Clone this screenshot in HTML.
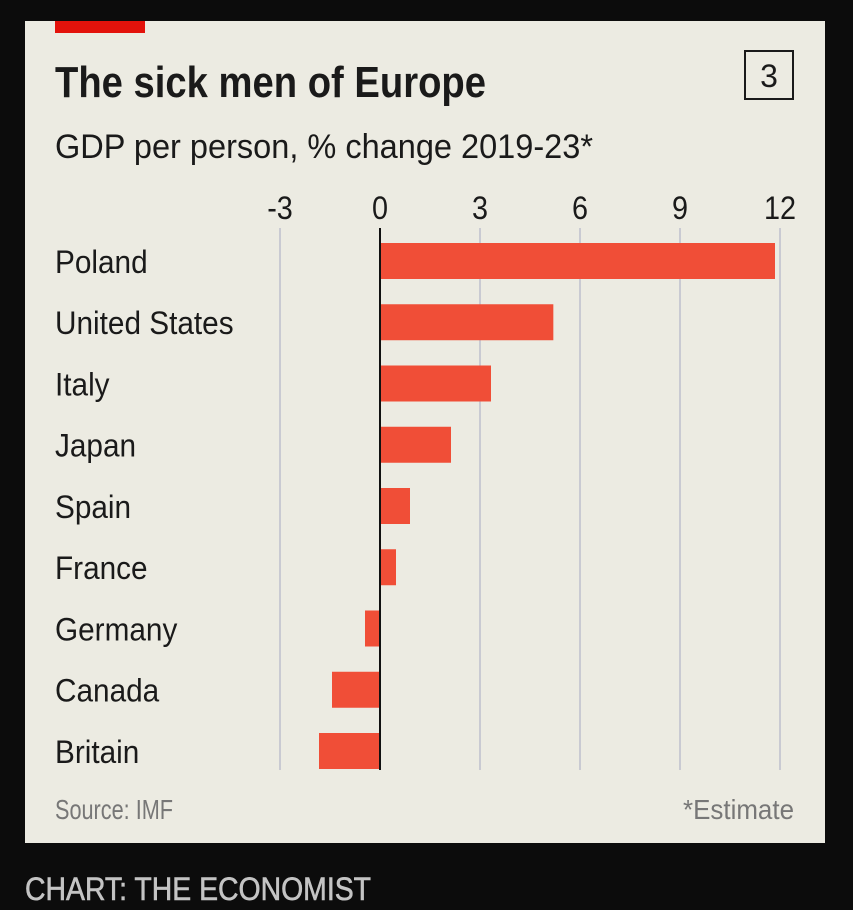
<!DOCTYPE html>
<html><head><meta charset="utf-8"><style>
html,body{margin:0;padding:0;background:#0c0c0c;}
svg{display:block;}
text{font-family:"Liberation Sans Narrow","Liberation Sans",sans-serif;}
</style></head><body>
<svg id="chart" width="853" height="910" viewBox="0 0 853 910">
  <rect x="0" y="0" width="853" height="910" fill="#0c0c0c"/>
  <rect x="25" y="21" width="800" height="822" fill="#ecebe2"/>
  <rect x="55" y="21" width="90" height="12" fill="#e3120b"/>
  <text x="55" y="97" font-size="44" font-weight="bold" fill="#1a1a1a" textLength="431" lengthAdjust="spacingAndGlyphs">The sick men of Europe</text>
  <rect x="745" y="51" width="48" height="48" fill="none" stroke="#1a1a1a" stroke-width="2"/>
  <text x="769" y="87" font-size="32" fill="#1a1a1a" text-anchor="middle">3</text>
  <text x="55" y="158" font-size="34" fill="#1a1a1a" textLength="538" lengthAdjust="spacingAndGlyphs">GDP per person, % change 2019-23*</text>
  <g id="grid"></g>
  <g id="bars"></g>
  <g id="labels" transform="translate(55,0) scale(0.93,1)"></g>
  <g id="ticks"></g>
  <text x="55" y="819" font-size="28" fill="#777" textLength="118" lengthAdjust="spacingAndGlyphs">Source: IMF</text>
  <text x="794" y="819" font-size="28" fill="#777" text-anchor="end" textLength="111" lengthAdjust="spacingAndGlyphs">*Estimate</text>
  <text x="25" y="900" font-size="32" fill="#c4c4c4" stroke="#c4c4c4" stroke-width="0.6" textLength="346" lengthAdjust="spacingAndGlyphs">CHART: THE ECONOMIST</text>
</svg>
<script>
const categories = ["Poland","United States","Italy","Japan","Spain","France","Germany","Canada","Britain"];
const values = [11.85, 5.2, 3.33, 2.13, 0.9, 0.48, -0.45, -1.44, -1.83];
const tickValues = [-3, 0, 3, 6, 9, 12];
const tickLabels = ["-3","0","3","6","9","12"];

const NS = "http://www.w3.org/2000/svg";
const x = v => 380 + (v) * (400 / 12);
const rowTop = i => 243 + i * 61.25;
const barH = 36;
const gridTop = 228, gridBottom = 770;

function mk(tag, attrs, parent) {
  const el = document.createElementNS(NS, tag);
  for (const k in attrs) el.setAttribute(k, attrs[k]);
  parent.appendChild(el);
  return el;
}
const grid = document.getElementById('grid');
const bars = document.getElementById('bars');
const labels = document.getElementById('labels');
const ticks = document.getElementById('ticks');

tickValues.forEach((t, i) => {
  if (t !== 0) {
    const ln = mk('line', {x1: x(t), x2: x(t), y1: gridTop, y2: gridBottom, stroke: '#c9cad2', 'stroke-width': 2}, grid);
    
    
  }
  const g = mk('g', {transform: 'translate(' + x(t) + ',0) scale(0.9,1)'}, ticks);
  const tx = mk('text', {x: 0, y: 219, 'font-size': 32, fill: '#1a1a1a', 'text-anchor': 'middle'}, g);
  tx.textContent = tickLabels[i];
  
  
});

categories.forEach((c, i) => {
  const v = values[i];
  const x0 = Math.min(x(0), x(v)), w = Math.abs(x(v) - x(0));
  const r = mk('rect', {x: x0, y: rowTop(i), width: w, height: barH, fill: '#f04e37'}, bars);
  
  
  const lb = mk('text', {x: 0, y: rowTop(i) + 30, 'font-size': 32, fill: '#1a1a1a'}, labels);
  lb.textContent = c;
  
  
});

const zl = mk('line', {x1: x(0), x2: x(0), y1: gridTop, y2: gridBottom, stroke: '#111', 'stroke-width': 2}, bars);


</script>
</body></html>
